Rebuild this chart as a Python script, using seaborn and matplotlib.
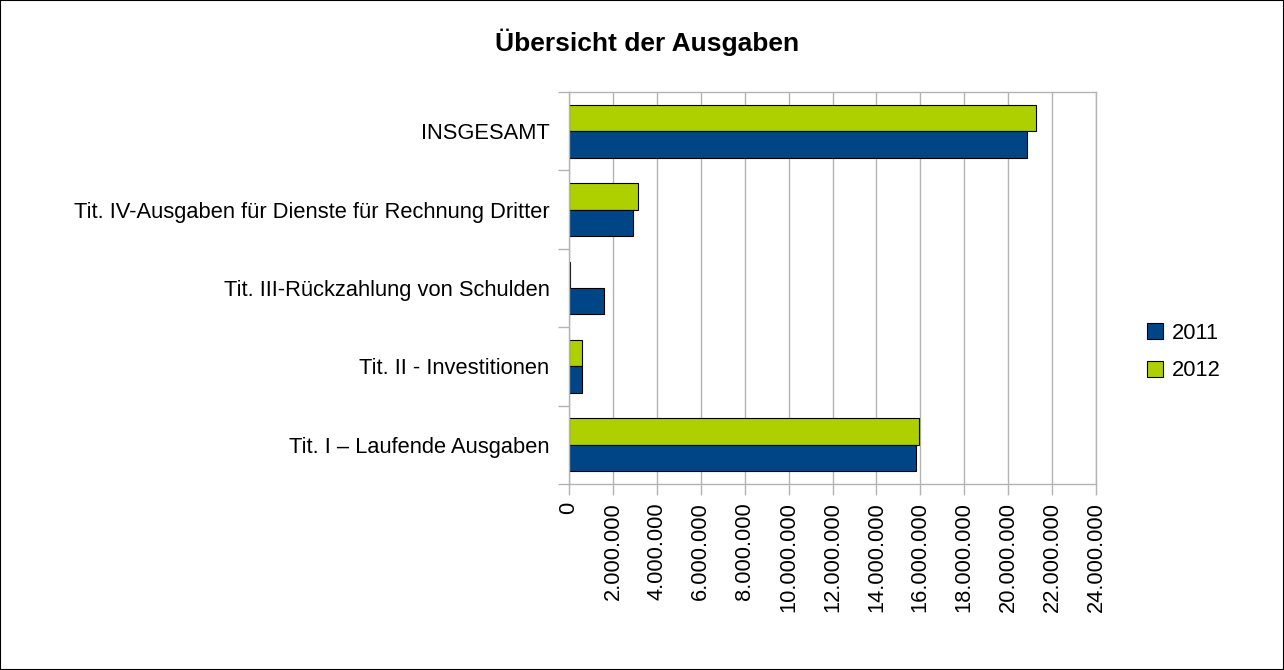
import matplotlib
matplotlib.use('Agg')
import matplotlib.pyplot as plt
import matplotlib.ticker as mticker
from matplotlib.patches import Patch, Rectangle
import pandas as pd
import seaborn as sns

categories = [
    'INSGESAMT',
    'Tit. IV-Ausgaben für Dienste für Rechnung Dritter',
    'Tit. III-Rückzahlung von Schulden',
    'Tit. II - Investitionen',
    'Tit. I – Laufende Ausgaben',
]
years = ['2011', '2012']
values_2011 = [20880000, 2900000, 1610000, 610000, 15780000]
values_2012 = [21290000, 3160000, 30000, 610000, 15940000]
x_ticks = list(range(0, 24000001, 2000000))

colors = {'2011': '#004586', '2012': '#aecf00'}

df = pd.DataFrame({
    'Kategorie': categories * 2,
    'Jahr': ['2011'] * len(categories) + ['2012'] * len(categories),
    'Betrag': values_2011 + values_2012,
})

sns.set_style('white')
plt.rcParams['font.family'] = ['Liberation Sans', 'DejaVu Sans']
plt.rcParams['text.color'] = 'black'
plt.rcParams['xtick.labelcolor'] = 'black'
plt.rcParams['ytick.labelcolor'] = 'black'

fig = plt.figure(figsize=(12.84, 6.7), dpi=100)
ax = fig.add_axes([569 / 1284, 1 - 484 / 670, (1096 - 569) / 1284, (484 - 92) / 670])

sns.barplot(data=df, y='Kategorie', x='Betrag', hue='Jahr', order=categories,
            hue_order=['2012', '2011'], palette=colors, orient='h', width=0.675,
            edgecolor='black', linewidth=0.8, saturation=1, ax=ax, legend=False)

ax.set_xlim(0, 24000000)
ax.set_ylim(len(categories) - 0.5, -0.5)
ax.set_xticks(x_ticks)
ax.xaxis.set_major_formatter(mticker.FuncFormatter(lambda v, p: f'{int(v):,}'.replace(',', '.')))
ax.tick_params(axis='x', labelrotation=90, length=8, width=1, color='#b3b3b3',
               pad=5, labelsize=15.75, bottom=True, direction='out')
ax.set_yticks(range(len(categories)))
ax.set_yticks([i - 0.5 for i in range(len(categories) + 1)], minor=True)
ax.tick_params(axis='y', which='major', length=0, pad=14, labelsize=15.75)
ax.tick_params(axis='y', which='minor', length=8, width=1, color='#b3b3b3', left=True, direction='out')
ax.grid(True, axis='x', color='#b3b3b3', linewidth=1)
ax.set_axisbelow(True)
for s in ax.spines.values():
    s.set_color('#b3b3b3')
    s.set_linewidth(1)
ax.set_xlabel('')
ax.set_ylabel('')

fig.text(647 / 1284, 1 - 42 / 670, 'Übersicht der Ausgaben', ha='center', va='center',
         fontsize=19, fontweight='bold')

handles = [Patch(facecolor=colors[y], edgecolor='black', linewidth=0.8, label=y) for y in years]
fig.legend(handles=handles, loc='center left', bbox_to_anchor=(1127 / 1284, 1 - 352 / 670),
           frameon=False, fontsize=15.75, handlelength=0.75, handleheight=0.75,
           handletextpad=0.4, labelspacing=0.75)

fig.add_artist(Rectangle((0, 0), 1, 1, transform=fig.transFigure, fill=False,
                         edgecolor='black', linewidth=1.5))

fig.savefig('out.png', dpi=100)
